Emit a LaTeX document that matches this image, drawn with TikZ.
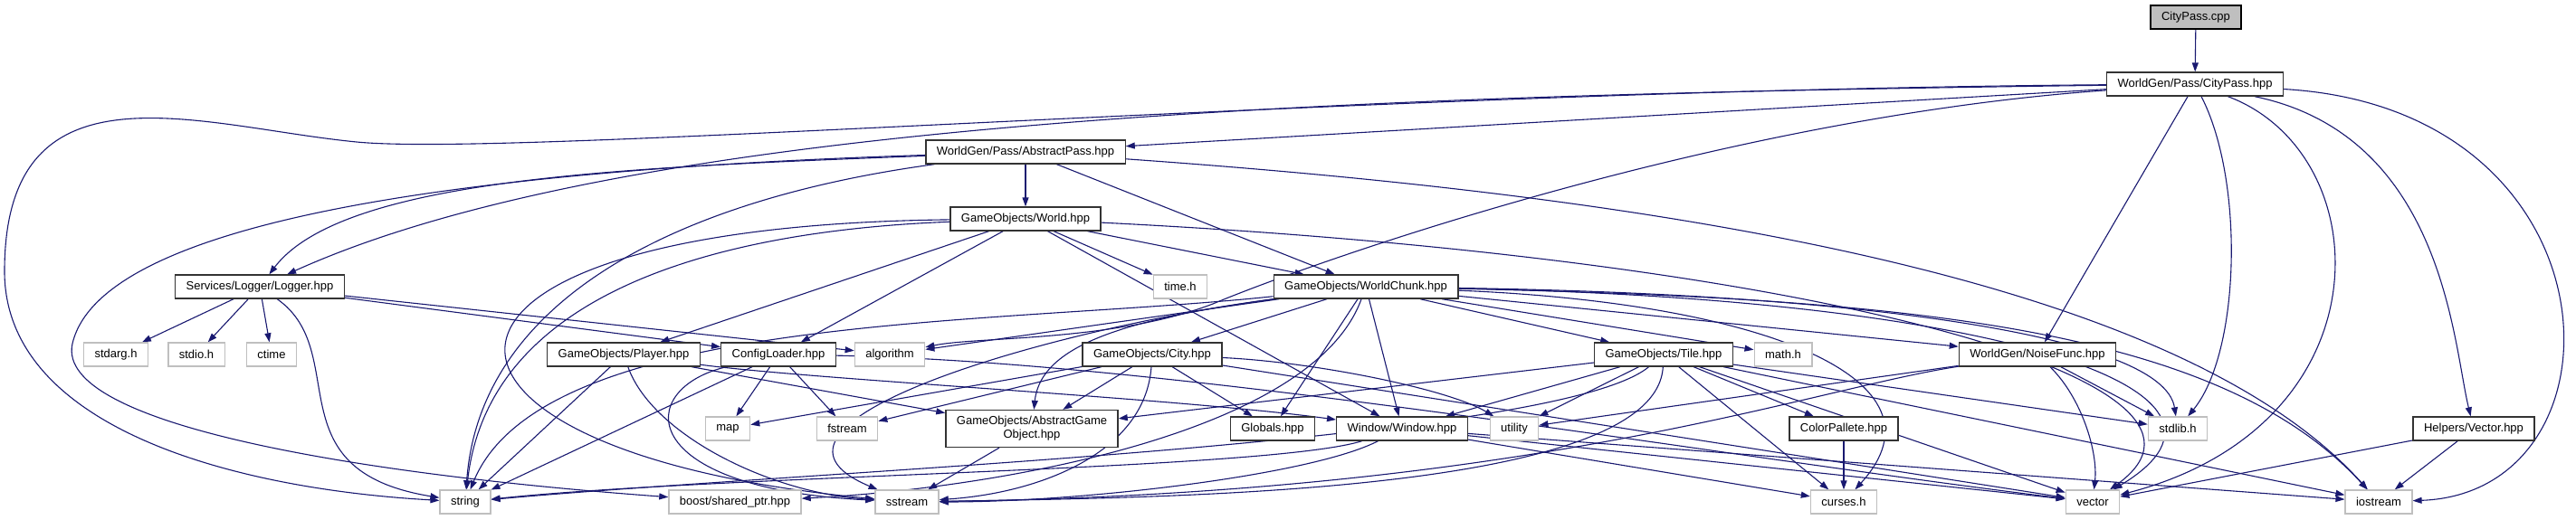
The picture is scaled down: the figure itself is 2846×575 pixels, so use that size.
\documentclass[tikz,border=0pt]{standalone}
\usepackage{fontspec}
\setmainfont{Liberation Sans}
\usepackage{tikz}
\usetikzlibrary{arrows.meta,backgrounds}
\usepackage{xcolor}
\definecolor{edgeblue}{RGB}{25,25,112}

\begin{document}
\begin{tikzpicture}[x=1pt,y=1pt,
    hdr/.style={draw=black!80,fill=white,line width=1.3pt,inner xsep=12pt,inner ysep=0pt,
      minimum height=26pt,font=\fontsize{13}{15}\selectfont},
    syshdr/.style={hdr,draw=gray!50},
    dep/.style={edgeblue,line width=1.1pt,-{Triangle[length=10pt,width=7pt]}}]
  \useasboundingbox (0,0) rectangle (2846,-575);

  \node[hdr,fill=gray!50,draw=black] (cpp) at (2426,-19) {CityPass.cpp};
  \node[hdr] (cph) at (2425,-93) {WorldGen/Pass/CityPass.hpp};
  \node[hdr] (absp) at (1133,-168) {WorldGen/Pass/AbstractPass.hpp};
  \node[hdr] (world) at (1133,-242) {GameObjects/World.hpp};
  \node[hdr] (logger) at (287,-317) {Services/Logger/Logger.hpp};
  \node[syshdr] (timeh) at (1304,-317) {time.h};
  \node[hdr] (chunk) at (1509,-317) {GameObjects/WorldChunk.hpp};
  \node[syshdr] (stdarg) at (128,-392) {stdarg.h};
  \node[syshdr] (stdio) at (217,-392) {stdio.h};
  \node[syshdr] (ctime) at (300,-392) {ctime};
  \node[hdr] (player) at (689,-392) {GameObjects/Player.hpp};
  \node[hdr] (config) at (860,-392) {ConfigLoader.hpp};
  \node[syshdr] (algorithm) at (983,-392) {algorithm};
  \node[hdr] (city) at (1273,-392) {GameObjects/City.hpp};
  \node[hdr] (tile) at (1838,-392) {GameObjects/Tile.hpp};
  \node[syshdr] (mathh) at (1970,-392) {math.h};
  \node[hdr] (noise) at (2251,-392) {WorldGen/NoiseFunc.hpp};
  \node[syshdr] (map) at (804,-474) {map};
  \node[syshdr] (fstream) at (936,-474) {fstream};
  \node[hdr,align=center,minimum height=41pt] (ago) at (1140,-474) {GameObjects/AbstractGame\\Object.hpp};
  \node[hdr] (globals) at (1406,-474) {Globals.hpp};
  \node[hdr] (window) at (1549,-474) {Window/Window.hpp};
  \node[syshdr] (utility) at (1673,-474) {utility};
  \node[hdr] (colorp) at (2037,-474) {ColorPallete.hpp};
  \node[syshdr] (stdlib) at (2406,-474) {stdlib.h};
  \node[hdr] (vechpp) at (2733,-474) {Helpers/Vector.hpp};
  \node[syshdr] (string) at (514,-555) {string};
  \node[syshdr] (boost) at (812,-555) {boost/shared\_ptr.hpp};
  \node[syshdr] (sstream) at (1002,-555) {sstream};
  \node[syshdr] (curses) at (2037,-555) {curses.h};
  \node[syshdr] (vector) at (2312,-555) {vector};
  \node[syshdr] (iostream) at (2628,-555) {iostream};

  \begin{scope}[on background layer]
    \foreach \a/\b in {cpp/cph, cph/absp, cph/noise, absp/world, absp/chunk,
        logger/stdarg, logger/stdio, logger/ctime, logger/config, logger/algorithm,
        world/chunk, world/timeh, world/window, world/player, world/config,
        chunk/algorithm, chunk/city, chunk/globals, chunk/window, chunk/tile, chunk/mathh, chunk/noise,
        player/string, player/ago, config/map, config/fstream, config/string,
        city/ago, city/globals, city/fstream, city/map, city/vector,
        tile/window, tile/utility, tile/ago, tile/colorp, tile/curses, tile/stdlib, tile/vector, tile/iostream,
        colorp/curses, window/vector, window/curses, window/iostream,
        noise/utility, noise/stdlib, vechpp/vector, vechpp/iostream, ago/sstream}
      \draw[dep] (\a) -- (\b);

    \draw[dep] (cph) .. controls (1500,-105) and (700,-130) .. (logger);
    \draw[dep] (cph) .. controls (1500,-100) and (568,-174) .. (394,-157)
      .. controls (220,-140) and (5,-60) .. (5,-300)
      .. controls (5,-470) and (250,-540) .. (string);
    \draw[dep] (cph) .. controls (1900,-130) and (1450,-290) .. (1340,-336)
      .. controls (1230,-378) and (1080,-372) .. (algorithm);
    \draw[dep] (cph) .. controls (2480,-200) and (2475,-390) .. (stdlib);
    \draw[dep] (cph) .. controls (2630,-170) and (2640,-470) .. (vector);
    \draw[dep] (cph) .. controls (2700,-150) and (2710,-380) .. (vechpp);
    \draw[dep] (cph) .. controls (2900,-120) and (2910,-545) .. (iostream);

    \draw[dep] (absp) .. controls (700,-185) and (380,-195) .. (logger);
    \draw[dep] (absp) .. controls (600,-185) and (115,-230) .. (80,-380)
      .. controls (60,-470) and (400,-525) .. (boost);
    \draw[dep] (absp) .. controls (750,-220) and (530,-330) .. (string);
    \draw[dep] (absp) .. controls (1800,-215) and (2400,-300) .. (iostream);
    \draw[dep] (logger) .. controls (390,-390) and (300,-520) .. (string);

    \draw[dep] (world) .. controls (800,-255) and (540,-320) .. (string);
    \draw[dep] (world) .. controls (400,-250) and (420,-500) .. (sstream);
    \draw[dep] (world) .. controls (2000,-285) and (2500,-420) .. (vector);

    \draw[dep] (chunk) .. controls (1250,-352) and (1150,-380) .. (ago);
    \draw[dep] (chunk) .. controls (1100,-360) and (600,-345) .. (string);
    \draw[dep] (chunk) .. controls (1150,-365) and (800,-470) .. (sstream);
    \draw[dep] (chunk) .. controls (1450,-480) and (1100,-540) .. (boost);
    \draw[dep] (chunk) .. controls (1950,-335) and (2160,-420) .. (curses);
    \draw[dep] (chunk) .. controls (2050,-325) and (2390,-370) .. (stdlib);
    \draw[dep] (chunk) .. controls (2200,-330) and (2520,-430) .. (vector);
    \draw[dep] (chunk) .. controls (2100,-330) and (2450,-360) .. (iostream);

    \draw[dep] (player) .. controls (720,-480) and (850,-545) .. (sstream);
    \draw[dep] (player) .. controls (900,-420) and (1300,-440) .. (window);
    \draw[dep] (config) .. controls (700,-430) and (700,-540) .. (sstream);
    \draw[dep] (config) .. controls (1300,-400) and (1900,-505) .. (vector);
    \draw[dep] (city) .. controls (1265,-500) and (1150,-545) .. (sstream);
    \draw[dep] (city) .. controls (1450,-400) and (1600,-430) .. (utility);
    \draw[dep] (tile) .. controls (1720,-490) and (900,-520) .. (string);
    \draw[dep] (tile) .. controls (1830,-545) and (1300,-550) .. (sstream);
    \draw[dep] (window) .. controls (1400,-520) and (800,-525) .. (string);
    \draw[dep] (window) .. controls (1450,-525) and (1200,-555) .. (sstream);
    \draw[dep] (noise) .. controls (2300,-440) and (2318,-500) .. (vector);
    \draw[dep] (noise) .. controls (2000,-430) and (1700,-545) .. (sstream);
  \end{scope}
\end{tikzpicture}
\end{document}
